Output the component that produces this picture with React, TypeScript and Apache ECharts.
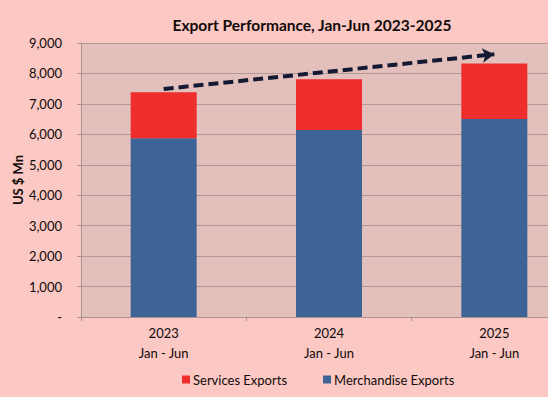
import React, { useEffect, useRef } from "react";
import * as echarts from "echarts";

const categories = ["2023\nJan - Jun", "2024\nJan - Jun", "2025\nJan - Jun"];
const merchandiseExports = [5870, 6140, 6500];
const servicesExports = [1510, 1670, 1830];
const trendStart = [-0.075, 7490];
const trendEnd = [1.956, 8630];

const FONT = "Lato, 'Open Sans', sans-serif";

export default function App() {
  const ref = useRef<HTMLDivElement>(null);
  useEffect(() => {
    if (!ref.current) return;
    const chart = echarts.init(ref.current, null, { renderer: "svg" });
    chart.setOption({
      animation: false,
      backgroundColor: "#fbc8c3",
      title: {
        text: "Export Performance, Jan-Jun 2023-2025",
        left: 307,
        textAlign: "center",
        top: 12,
        textStyle: { fontFamily: FONT, fontSize: 15.5, fontWeight: "bold", color: "#120a0a" },
      },
      legend: {
        data: ["Services Exports", "Merchandise Exports"],
        top: 368,
        left: 177,
        itemWidth: 8,
        itemHeight: 8,
        itemGap: 36,
        icon: "rect",
        textStyle: { fontFamily: FONT, fontSize: 13, color: "#120a0a", padding: [0, 0, 0, -2] },
      },
      grid: { left: 81, top: 43, height: 274, width: 496, containLabel: false,
        outerBoundsMode: "none",
        show: true, backgroundColor: "#e4c0bd", borderWidth: 0 },
      xAxis: {
        type: "category",
        data: categories,
        axisLine: { lineStyle: { color: "#a89390", width: 1 } },
        axisTick: { show: true, length: 4, lineStyle: { color: "#a89390" } },
        axisLabel: { fontFamily: FONT, fontSize: 13, color: "#120a0a", lineHeight: 20, margin: 6 },
      },
      yAxis: {
        type: "value",
        min: 0,
        max: 9000,
        interval: 1000,
        name: "US $ Mn",
        nameLocation: "middle",
        nameGap: 57,
        nameMoveOverlap: false,
        nameTextStyle: { fontFamily: FONT, fontSize: 13, fontWeight: "bold", color: "#120a0a" },
        axisLine: { show: true, lineStyle: { color: "#a89390" } },
        axisTick: { show: true, length: 4, lineStyle: { color: "#a89390" } },
        splitLine: { lineStyle: { color: "#b49896", width: 1 } },
        axisLabel: {
          fontFamily: FONT,
          fontSize: 13,
          color: "#120a0a",
          margin: 19,
          formatter: (v: number) => (v === 0 ? "-" : v.toLocaleString("en-US")),
        },
      },
      series: [
        {
          name: "Merchandise Exports",
          type: "bar",
          stack: "total",
          barWidth: 66,
          data: merchandiseExports,
          itemStyle: { color: "#3e6497" },
          markLine: {
            silent: true,
            symbol: ["none", "arrow"],
            symbolSize: [11, 12],
            label: { show: false },
            lineStyle: { color: "#141a33", width: 4, type: [10, 5] },
            data: [[{ coord: trendStart }, { coord: trendEnd }]],
          },
        },
        {
          name: "Services Exports",
          type: "bar",
          stack: "total",
          barWidth: 66,
          data: servicesExports,
          itemStyle: { color: "#ee2d2d" },
        },
      ],
    });
    return () => chart.dispose();
  }, []);
  return <div ref={ref} style={{ width: 548, height: 397, position: "absolute", left: 0, top: 0 }} />;
}
